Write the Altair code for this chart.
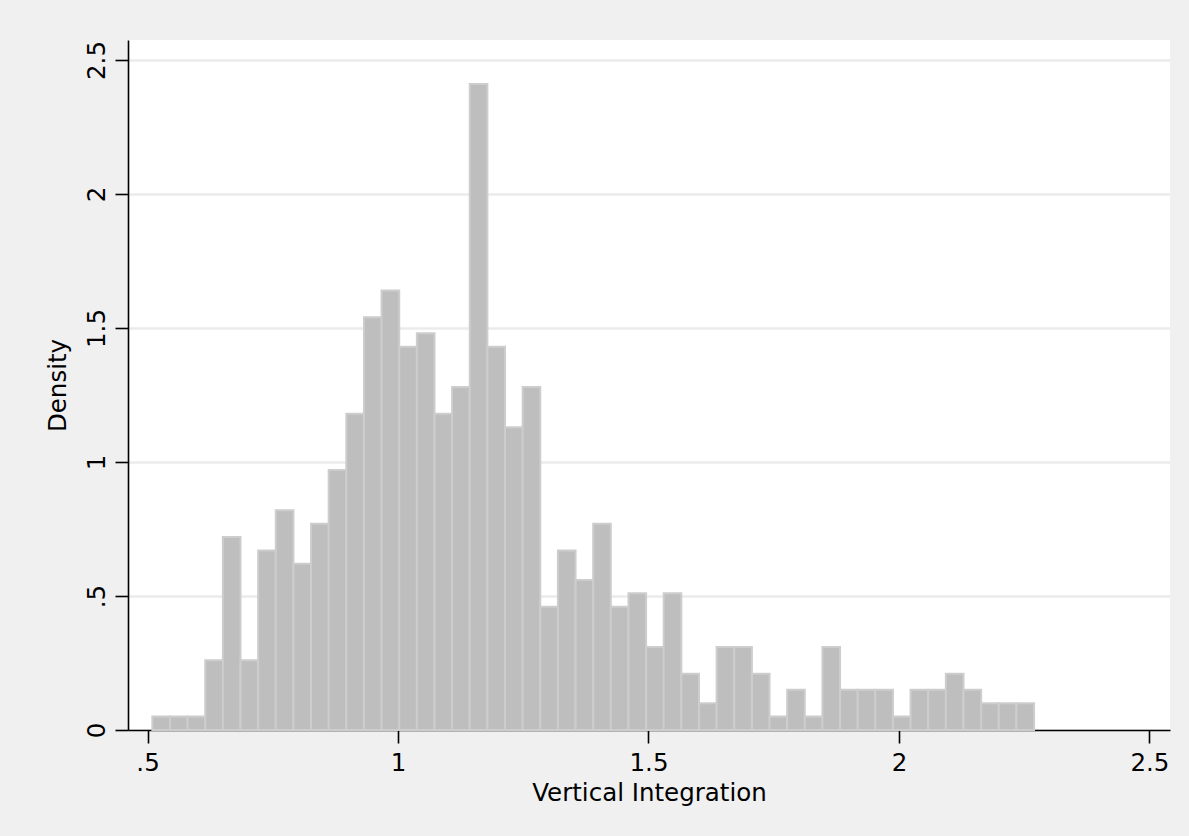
import altair as alt
import pandas as pd

# Histogram of Vertical Integration (density scale)
bin_start = 0.5096
bin_width = 0.0352
density = [
    0.05, 0.05, 0.05, 0.26, 0.72, 0.26, 0.67, 0.82, 0.62, 0.77,
    0.97, 1.18, 1.54, 1.64, 1.43, 1.48, 1.18, 1.28, 2.41, 1.43,
    1.13, 1.28, 0.46, 0.67, 0.56, 0.77, 0.46, 0.51, 0.31, 0.51,
    0.21, 0.10, 0.31, 0.31, 0.21, 0.05, 0.15, 0.05, 0.31, 0.15,
    0.15, 0.15, 0.05, 0.15, 0.15, 0.21, 0.15, 0.10, 0.10, 0.10,
]
x_ticks = [0.5, 1, 1.5, 2, 2.5]
y_ticks = [0, 0.5, 1, 1.5, 2, 2.5]
x_title = "Vertical Integration"
y_title = "Density"

left = [bin_start + i * bin_width for i in range(len(density))]
df = pd.DataFrame({
    "x0": left,
    "x1": [v + bin_width for v in left],
    "density": density,
})

FONT = "DejaVu Sans"
FS = 24.5
strip_zero = "datum.value == 0.5 ? '.5' : datum.label"

bars = alt.Chart(df).mark_rect(
    fill="#BEBEBE", stroke="#CDCDCD", strokeWidth=2
).encode(
    x=alt.X(
        "x0:Q",
        scale=alt.Scale(domain=[0.461, 2.541], nice=False, zero=False),
        axis=alt.Axis(
            values=x_ticks, format="~g", labelExpr=strip_zero,
            title=x_title, grid=False,
            tickSize=13, labelPadding=8, titlePadding=7,
        ),
    ),
    x2="x1:Q",
    y=alt.Y(
        "density:Q",
        scale=alt.Scale(domain=[0, 2.5746], nice=False),
        axis=alt.Axis(
            values=y_ticks, format="~g", labelExpr=strip_zero,
            title=y_title, grid=True, gridColor="#EBEBEB", gridWidth=2.5,
            labelAngle=270, labelAlign="center", labelBaseline="alphabetic",
            tickSize=13, labelPadding=11, titlePadding=14,
        ),
    ),
    y2=alt.datum(0),
)

chart = bars.properties(
    width=1042,
    height=690,
    autosize=alt.AutoSizeParams(type="none"),
    padding={"left": 128, "top": 40, "right": 19, "bottom": 106},
    background="#F0F0F0",
).configure_view(
    fill="white", stroke=None
).configure_axis(
    labelFont=FONT, titleFont=FONT, labelFontSize=FS, titleFontSize=FS,
    labelColor="black", titleColor="black", titleFontWeight="normal",
    domainColor="black", tickColor="black", domainWidth=1.6, tickWidth=1.6,
    labelFlush=False, labelOverlap=False,
)

chart.save("out.html", embed_options={"renderer": "svg", "actions": False})
